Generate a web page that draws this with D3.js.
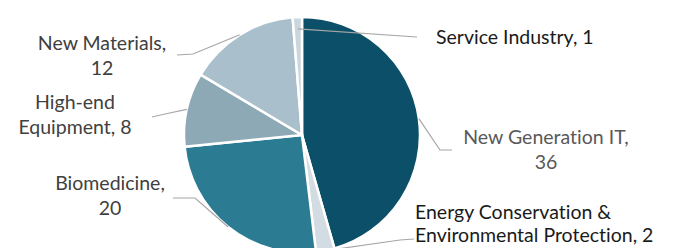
<!DOCTYPE html>
<html>
<head>
<meta charset="utf-8">
<script src="https://cdn.jsdelivr.net/npm/d3@7"></script>
<style>
  html, body { margin: 0; padding: 0; background: #ffffff; overflow: hidden; }
  svg { display: block; }
  text { font-family: Lato, "Open Sans", sans-serif; font-variant-ligatures: none; }
</style>
</head>
<body>
<svg id="chart" width="676" height="248"></svg>
<script>
// Data
const categories = ["New Generation IT", "Energy Conservation & Environmental Protection", "Biomedicine", "High-end Equipment", "New Materials", "Service Industry"];
const values = [36, 2, 20, 8, 12, 1];
const colors = ["#0b5068", "#d2dce2", "#2b7c93", "#8ea9b6", "#a9bfcb", "#c9d6dd"];
// label text lines
const labelLines = [
  ["New Generation IT,", "36"],
  ["Energy Conservation &", "Environmental Protection, 2"],
  ["Biomedicine,", "20"],
  ["High-end", "Equipment, 8"],
  ["New Materials,", "12"],
  ["Service Industry, 1"]
];

// Layout (positions / styles)
const W = 676, H = 248;
const cx = 302, cy = 135, R = 118;
const layout = [
  { startR: 1.0, elbow: [440, 150], end: [452, 150], tx: 546, ty: 137, lh: 25, anchor: "middle", color: "#595959" },
  { startR: 1.0, elbow: [400, 240], end: [414, 239], tx: 415, ty: 212, lh: 23, anchor: "start", color: "#1a1a1a" },
  { startR: 1.0, elbow: [195, 198], end: [173, 198], tx: 110, ty: 183, lh: 25, anchor: "middle", color: "#404040" },
  { startR: 1.0, elbow: [165, 114], end: [152, 117], tx: 75, ty: 102, lh: 25, anchor: "middle", color: "#404040" },
  { startR: 1.0, elbow: [193, 54], end: [177, 55], tx: 102, ty: 43, lh: 25, anchor: "middle", color: "#404040" },
  { startR: 0.9, elbow: [417, 37], end: [417, 37], tx: 436, ty: 37, lh: 25, anchor: "start", color: "#1a1a1a" }
];
const fontSize = 19.5;

const svg = d3.select("#chart");
const g = svg.append("g").attr("transform", `translate(${cx},${cy})`);

const pie = d3.pie().sort(null).value(d => d);
const arcs = pie(values);
const arc = d3.arc().innerRadius(0).outerRadius(R);

g.selectAll("path.slice")
  .data(arcs)
  .enter().append("path")
  .attr("class", "slice")
  .attr("d", arc)
  .attr("fill", (d, i) => colors[i])
  .attr("stroke", "#ffffff")
  .attr("stroke-width", 2.5)
  .attr("stroke-linejoin", "round");

// leader lines
const line = d3.line();
arcs.forEach((d, i) => {
  const L = layout[i];
  const mid = (d.startAngle + d.endAngle) / 2;
  const r = R * L.startR;
  const sx = cx + r * Math.sin(mid);
  const sy = cy - r * Math.cos(mid);
  svg.append("path")
    .attr("d", line([[sx, sy], L.elbow, L.end]))
    .attr("fill", "none")
    .attr("stroke", "#a6a6a6")
    .attr("stroke-width", 1.2);
});

// labels
labelLines.forEach((lines, i) => {
  const L = layout[i];
  const t = svg.append("text")
    .attr("text-anchor", L.anchor)
    .attr("fill", L.color)
    .attr("font-size", fontSize);
  lines.forEach((s, k) => {
    t.append("tspan")
      .attr("x", L.tx)
      .attr("y", L.ty + k * L.lh)
      .attr("dy", "0.35em")
      .text(s);
  });
});
</script>
</body>
</html>
